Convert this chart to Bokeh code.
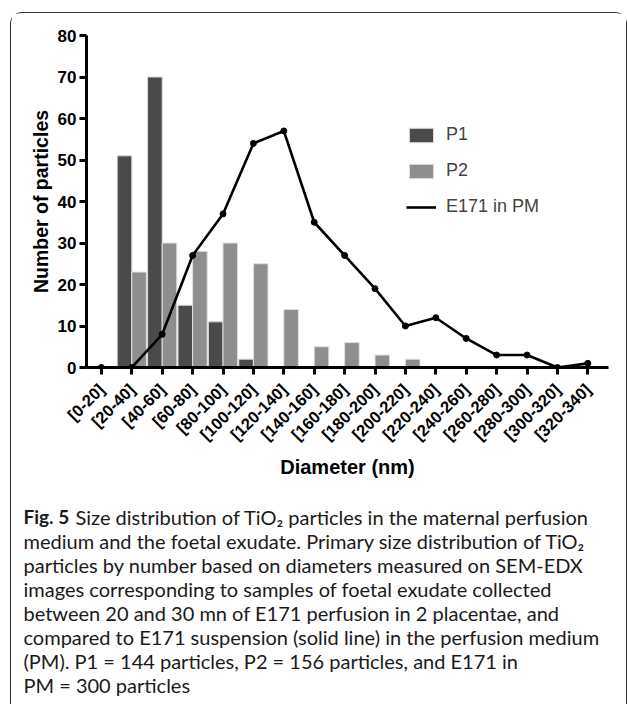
import math
from bokeh.plotting import figure
from bokeh.layouts import column
from bokeh.models import (Range1d, FixedTicker, Legend, LegendItem, ColumnDataSource)
from bokeh.core.properties import value
from bokeh.transform import dodge
from bokeh.embed import file_html
from bokeh.resources import INLINE

# ---------------- data ----------------
categories = ["[0-20]", "[20-40]", "[40-60]", "[60-80]", "[80-100]", "[100-120]",
              "[120-140]", "[140-160]", "[160-180]", "[180-200]", "[200-220]",
              "[220-240]", "[240-260]", "[260-280]", "[280-300]", "[300-320]",
              "[320-340]"]
p1_counts = [0, 51, 70, 15, 11, 2, 0, 0, 0, 0, 0, 0, 0, 0, 0, 0, 0]
p2_counts = [0, 23, 30, 28, 30, 25, 14, 5, 6, 3, 2, 0, 0, 0, 0, 0, 0]
e171_counts = [0, 0, 8, 27, 37, 54, 57, 35, 27, 19, 10, 12, 7, 3, 3, 0, 1]
y_ticks = [0, 10, 20, 30, 40, 50, 60, 70, 80]

caption_bold = "Fig. 5"
caption_lines = [
    "Size distribution of TiO\u2082 particles in the maternal perfusion",
    "medium and the foetal exudate. Primary size distribution of TiO\u2082",
    "particles by number based on diameters measured on SEM-EDX",
    "images corresponding to samples of foetal exudate collected",
    "between 20 and 30 mn of E171 perfusion in 2 placentae, and",
    "compared to E171 suspension (solid line) in the perfusion medium",
    "(PM). P1 = 144 particles, P2 = 156 particles, and E171 in",
    "PM = 300 particles",
]

x_idx = list(range(len(categories)))
src = ColumnDataSource(dict(x=x_idx, p1=p1_counts, p2=p2_counts, e171=e171_counts))

FONT = "Liberation Sans"
CAP_FONT = "Lato"

# ---------------- chart ----------------
p = figure(width=615, height=468,
           x_range=Range1d(-0.49, 16.68), y_range=Range1d(0, 80),
           output_backend="svg", toolbar_location=None,
           min_border_left=75, min_border_right=18,
           min_border_top=22, min_border_bottom=114)
p.frame_align = False

b1 = p.vbar(x=dodge("x", -0.24), top="p1", width=0.48, source=src,
            fill_color="#4a4a4a", line_color="#d8d8d8", line_width=1)
b2 = p.vbar(x=dodge("x", 0.24), top="p2", width=0.48, source=src,
            fill_color="#8e8e8e", line_color="#e0e0e0", line_width=1)
ln = p.line("x", "e171", source=src, line_color="black", line_width=2.6)
p.scatter("x", "e171", source=src, size=6, color="black")

p.xaxis.ticker = FixedTicker(ticks=x_idx)
p.xaxis.major_label_overrides = {i: c for i, c in enumerate(categories)}
p.xaxis.major_label_orientation = math.pi / 4
p.yaxis.ticker = FixedTicker(ticks=y_ticks)
for ax in (p.xaxis, p.yaxis):
    ax.axis_line_width = 3
    ax.axis_line_color = "black"
    ax.major_tick_line_width = 3
    ax.major_tick_line_color = "black"
    ax.major_tick_out = 7
    ax.major_tick_in = 0
    ax.minor_tick_line_color = None
    ax.major_label_text_font = FONT
    ax.major_label_text_font_style = "bold"
    ax.major_label_text_color = "black"
    ax.axis_label_text_font = FONT
    ax.axis_label_text_font_style = "bold"
    ax.axis_label_text_color = "black"
p.xaxis.major_label_text_font_size = "16.5px"
p.yaxis.major_label_text_font_size = "17px"
p.xaxis.major_label_standoff = 12
p.yaxis.major_label_standoff = 3
p.xaxis.axis_label = "Diameter (nm)"
p.yaxis.axis_label = "Number of particles"
p.xaxis.axis_label_text_font_size = "20px"
p.yaxis.axis_label_text_font_size = "19.5px"
p.xaxis.axis_label_standoff = 3
p.yaxis.axis_label_standoff = 3

p.grid.visible = False
p.outline_line_color = None

legend = Legend(items=[LegendItem(label="P1", renderers=[b1]),
                       LegendItem(label="P2", renderers=[b2]),
                       LegendItem(label="E171 in PM", renderers=[ln])],
                location=(320, 150), orientation="vertical",
                glyph_width=30, glyph_height=18, label_standoff=10,
                spacing=15, padding=0, margin=0,
                border_line_color=None, background_fill_alpha=0,
                label_text_font=FONT, label_text_font_size="18px",
                label_height=20)
p.add_layout(legend, "center")

# ---------------- caption ----------------
cap_src = ColumnDataSource(dict(
    x=[12 if i else 64 for i in range(len(caption_lines))],
    y=[35 + 24 * i for i in range(len(caption_lines))],
    text=caption_lines))

cap = figure(width=615, height=224, x_range=Range1d(0, 615), y_range=Range1d(224, 0),
             output_backend="svg", toolbar_location=None,
             x_axis_location=None, y_axis_location=None,
             min_border=0, min_border_left=0, min_border_right=0,
             min_border_top=0, min_border_bottom=0)
cap.frame_align = False
cap.grid.visible = False
cap.outline_line_color = None
cap.text(x=[12], y=[35], text=[caption_bold], text_font=value(CAP_FONT),
         text_font_style="bold", text_font_size="19px", text_baseline="alphabetic",
         text_color="#1a1a1a")
cap.text(x="x", y="y", text="text", source=cap_src, text_font=value(CAP_FONT),
         text_font_size="20px", text_baseline="alphabetic", text_color="#1a1a1a")

layout = column(p, cap, spacing=0, margin=(12, 2, 0, 10),
                styles={"border-top": "1.5px solid #333333",
                        "border-left": "1.5px solid #333333",
                        "border-right": "1.5px solid #333333",
                        "border-radius": "12px 12px 0 0"})

open("out.html", "w").write(file_html(layout, INLINE))
